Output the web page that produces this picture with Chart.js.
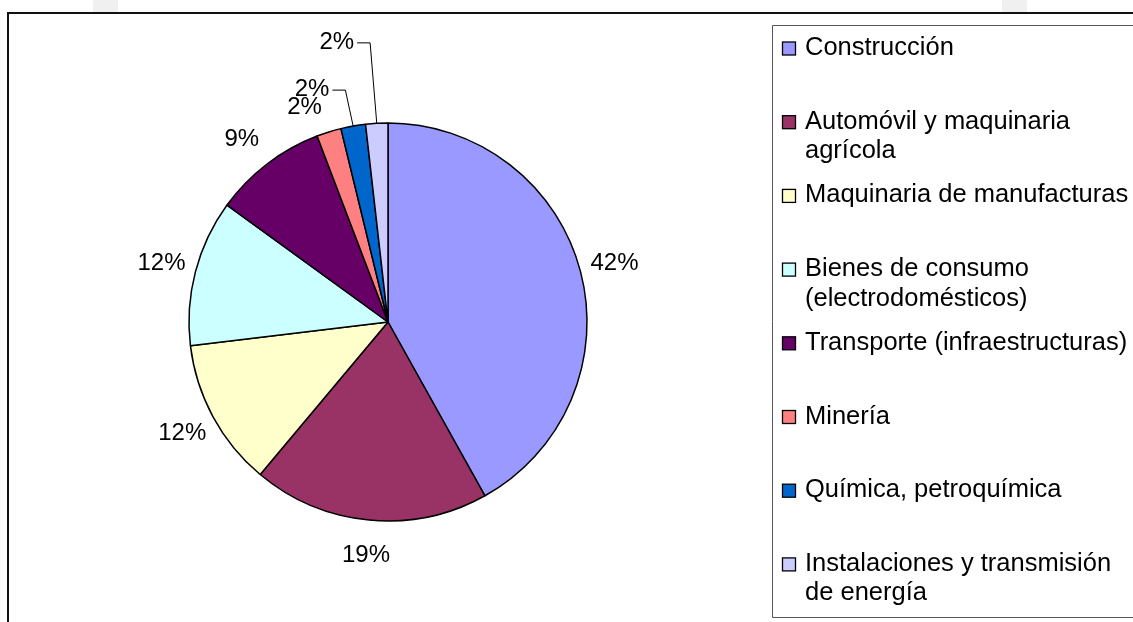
<!DOCTYPE html>
<html>
<head>
<meta charset="utf-8">
<script src="https://cdn.jsdelivr.net/npm/chart.js@4.4.0/dist/chart.umd.min.js"></script>
<style>
  html, body { margin: 0; padding: 0; background: #fff; }
  canvas { display: block; }
</style>
</head>
<body>
<canvas id="sectorChart" width="1133" height="622"></canvas>
<script>
// Sectores (porcentaje)
const categories = [
  "Construcción",
  "Automóvil y maquinaria agrícola",
  "Maquinaria de manufacturas",
  "Bienes de consumo (electrodomésticos)",
  "Transporte (infraestructuras)",
  "Minería",
  "Química, petroquímica",
  "Instalaciones y transmisión de energía"
];
const shares = [41.9, 19.2, 12.0, 11.9, 9.2, 2.0, 2.0, 1.8];
const sliceColors = ["#9999ff", "#993366", "#ffffcc", "#ccffff", "#660066", "#ff8080", "#0066cc", "#ccccff"];

// label nudges for the crowded small slices, and which ones get a leader line
const labelShift = { 4: [-4, 3], 5: [-14, 9], 6: [-35, -2], 7: [-38, -46] };
const leaderLine = { 6: true, 7: true };

const FONT = '"Liberation Sans", Arial, sans-serif';

const frame = {
  id: "frame",
  beforeDraw(chart) {
    const ctx = chart.ctx;
    ctx.save();
    ctx.fillStyle = "#fff";
    ctx.fillRect(0, 0, chart.width, chart.height);
    ctx.fillStyle = "#f0f0f0";
    ctx.fillRect(93, 0, 25, 12);
    ctx.fillRect(1002, 0, 25, 12);
    ctx.strokeStyle = "#111";
    ctx.lineWidth = 2;
    ctx.beginPath();
    ctx.moveTo(8, chart.height + 2);
    ctx.lineTo(8, 13);
    ctx.lineTo(chart.width + 2, 13);
    ctx.stroke();
    ctx.restore();
  }
};

const pctLabels = {
  id: "pctLabels",
  afterDatasetsDraw(chart) {
    const ctx = chart.ctx;
    const meta = chart.getDatasetMeta(0);
    const data = chart.data.datasets[0].data;
    const total = data.reduce((a, b) => a + b, 0);
    ctx.save();
    ctx.font = "24px " + FONT;
    ctx.fillStyle = "#000";
    ctx.strokeStyle = "#000";
    ctx.lineWidth = 1;
    ctx.textAlign = "center";
    ctx.textBaseline = "middle";
    meta.data.forEach((arc, i) => {
      const p = arc.getProps(["x", "y", "startAngle", "endAngle", "outerRadius"], true);
      const mid = (p.startAngle + p.endAngle) / 2;
      const r = p.outerRadius + 35;
      const off = labelShift[i] || [0, 0];
      const lx = p.x + Math.cos(mid) * r + off[0];
      const ly = p.y + Math.sin(mid) * r + off[1];
      const txt = Math.round(data[i] / total * 100) + "%";
      ctx.fillText(txt, lx, ly);
      if (leaderLine[i]) {
        const w = ctx.measureText(txt).width;
        const x0 = lx + w / 2 + 3;
        ctx.beginPath();
        ctx.moveTo(x0, ly + 0.5);
        ctx.lineTo(x0 + 13, ly + 0.5);
        ctx.lineTo(p.x + Math.cos(mid) * p.outerRadius, p.y + Math.sin(mid) * p.outerRadius);
        ctx.stroke();
      }
    });
    ctx.restore();
  }
};

function wrapText(ctx, text, maxW) {
  const words = text.split(" ");
  const lines = [];
  let line = "";
  words.forEach(w => {
    const test = line ? line + " " + w : w;
    if (ctx.measureText(test).width > maxW && line) {
      lines.push(line);
      line = w;
    } else {
      line = test;
    }
  });
  if (line) lines.push(line);
  return lines;
}

const sideLegend = {
  id: "sideLegend",
  afterDraw(chart) {
    const ctx = chart.ctx;
    const labels = chart.data.labels;
    const colors = chart.data.datasets[0].backgroundColor;
    ctx.save();
    // box
    ctx.strokeStyle = "#555";
    ctx.lineWidth = 1;
    ctx.beginPath();
    ctx.moveTo(chart.width + 2, 25.5);
    ctx.lineTo(772.5, 25.5);
    ctx.lineTo(772.5, 617.5);
    ctx.lineTo(chart.width + 2, 617.5);
    ctx.stroke();

    ctx.font = "25.5px " + FONT;
    ctx.textAlign = "left";
    ctx.textBaseline = "alphabetic";
    labels.forEach((lab, i) => {
      const base = 55 + i * 73.7;
      ctx.fillStyle = colors[i];
      ctx.fillRect(782.5, base - 13, 13, 13);
      ctx.strokeStyle = "#000";
      ctx.lineWidth = 1.3;
      ctx.strokeRect(782.5, base - 13, 13, 13);
      ctx.fillStyle = "#000";
      wrapText(ctx, lab, 335).forEach((ln, k) => {
        ctx.fillText(ln, 805, base + k * 29.5);
      });
    });
    ctx.restore();
  }
};

const ctx = document.getElementById("sectorChart").getContext("2d");
new Chart(ctx, {
  type: "pie",
  data: {
    labels: categories,
    datasets: [{
      data: shares,
      backgroundColor: sliceColors,
      borderColor: "#000",
      borderWidth: 1.5,
      hoverBorderWidth: 1.5,
      hoverOffset: 0
    }]
  },
  options: {
    responsive: false,
    animation: false,
    events: [],
    layout: { padding: { left: 188.25, top: 122.25, right: 545.25, bottom: 100.25 } },
    plugins: {
      legend: { display: false },
      tooltip: { enabled: false }
    }
  },
  plugins: [frame, pctLabels, sideLegend]
});
</script>
</body>
</html>
